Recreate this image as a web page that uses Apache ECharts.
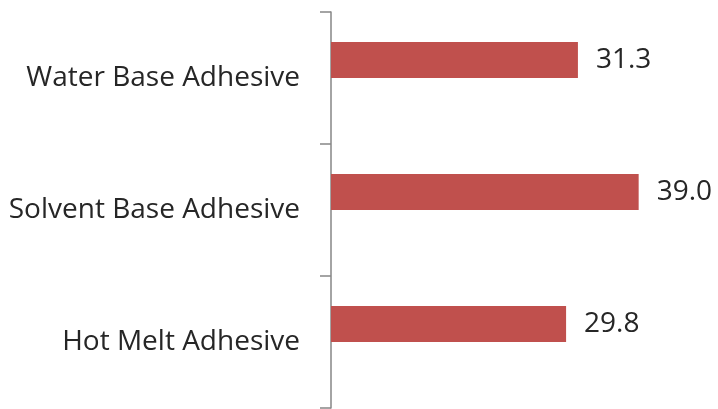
<!DOCTYPE html>
<html><head><meta charset="utf-8">
<script src="https://cdn.jsdelivr.net/npm/echarts@6/dist/echarts.min.js"></script>
<style>html,body{margin:0;padding:0;background:#fff}#c{width:718px;height:409px}</style>
</head><body><div id="c"></div>
<script>
const categories = ['Water Base Adhesive', 'Solvent Base Adhesive', 'Hot Melt Adhesive'];
const values = [31.3, 39.0, 29.8];
const spacer = ['-', '-', '-'];

const chart = echarts.init(document.getElementById('c'));
chart.setOption({
  animation: false,
  backgroundColor: '#ffffff',
  grid: { left: 331, top: 12, right: 32, bottom: 1, containLabel: false },
  xAxis: { type: 'value', min: 0, max: 45, show: false },
  yAxis: {
    type: 'category', data: categories, inverse: true,
    axisLine: { show: true, lineStyle: { color: '#868686', width: 1.5 } },
    axisTick: { show: true, alignWithLabel: false, length: 11, lineStyle: { color: '#868686', width: 1.5 } },
    axisLabel: { margin: 31, color: '#262626', fontFamily: 'Open Sans', fontSize: 28 }
  },
  series: [
    { type: 'bar', data: values, barWidth: 36, barGap: '0%',
      itemStyle: { color: '#C0504D' },
      label: { show: true, position: 'right', distance: 18, color: '#262626',
        fontFamily: 'Open Sans', fontSize: 28, formatter: p => p.value.toFixed(1) } },
    { type: 'bar', data: spacer, barWidth: 36 }
  ]
});
</script></body></html>
